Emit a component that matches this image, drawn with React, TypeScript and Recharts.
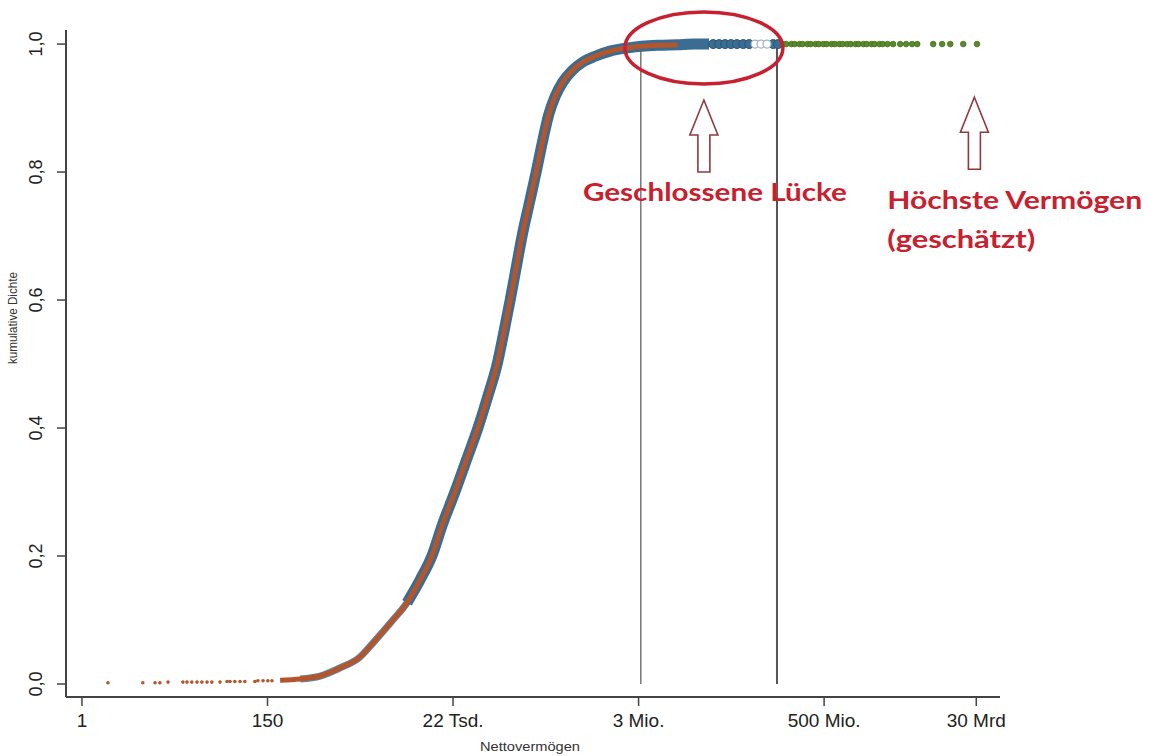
import React from 'react';
import {
  ComposedChart,
  Line,
  Scatter,
  XAxis,
  YAxis,
  ReferenceLine,
  ReferenceDot,
  Label,
} from 'recharts';

// x values are ln(Nettovermögen); tick labels show the wealth
const xTickValues = [0, 5, 10, 15, 20, 24.1];
const xTickLabels = ['1', '150', '22 Tsd.', '3 Mio.', '500 Mio.', '30 Mrd'];
const yTickValues = [0, 0.2, 0.4, 0.6, 0.8, 1.0];
const yTickLabels = ['0,0', '0,2', '0,4', '0,6', '0,8', '1,0'];

// sparse lowest wealth observations (orange dots)
const lowTailX = [0.7, 1.64, 1.97, 2.1, 2.32, 2.72, 2.83, 2.96, 3.1, 3.23, 3.37, 3.5, 3.72, 3.91, 3.99, 4.12, 4.26, 4.39, 4.66, 4.74, 4.88, 5.01, 5.12];
const lowTailY = [0.002, 0.002, 0.002, 0.002, 0.003, 0.003, 0.003, 0.003, 0.003, 0.003, 0.003, 0.003, 0.003, 0.004, 0.004, 0.004, 0.004, 0.004, 0.004, 0.005, 0.005, 0.005, 0.005];

// survey distribution (orange)
const surveyX = [5.34, 5.88, 6.42, 6.95, 7.49, 7.84, 8.38, 8.76, 9.11, 9.43, 9.72, 10.05, 10.36, 10.67, 10.94, 11.19, 11.37, 11.54, 11.7, 11.86, 12.05, 12.24, 12.42, 12.58, 12.75, 12.95, 13.2, 13.5, 13.83, 14.23, 14.77, 15.5, 16.05];
const surveyY = [0.006, 0.008, 0.0125, 0.025, 0.042, 0.064, 0.1, 0.127, 0.1625, 0.2, 0.25, 0.3, 0.35, 0.4, 0.45, 0.5, 0.55, 0.6, 0.65, 0.7, 0.75, 0.8, 0.85, 0.89, 0.918, 0.94, 0.958, 0.972, 0.981, 0.989, 0.9945, 0.998, 0.999];

// imputed distribution (blue band): thin lower part, thick upper part, tail circles
const imputedLowX = [5.88, 6.42, 6.95, 7.49, 7.84, 8.38, 8.76, 9.11];
const imputedLowY = [0.008, 0.0125, 0.025, 0.042, 0.064, 0.1, 0.127, 0.1625];
const imputedX = [8.76, 9.11, 9.43, 9.72, 10.05, 10.36, 10.67, 10.94, 11.19, 11.37, 11.54, 11.7, 11.86, 12.05, 12.24, 12.42, 12.58, 12.75, 12.95, 13.2, 13.5, 13.83, 14.23, 14.77, 15.5, 16.05, 16.5, 16.9];
const imputedY = [0.127, 0.1625, 0.2, 0.25, 0.3, 0.35, 0.4, 0.45, 0.5, 0.55, 0.6, 0.65, 0.7, 0.75, 0.8, 0.85, 0.89, 0.918, 0.94, 0.958, 0.972, 0.981, 0.989, 0.9945, 0.998, 0.999, 1.0, 1.0];
const imputedTailX = [17.01, 17.17, 17.33, 17.49, 17.65, 17.82, 17.98, 18.63, 18.76];
const imputedTailY = [1.0, 1.0, 1.0, 1.0, 1.0, 1.0, 1.0, 1.0, 1.0];
const imputedHollowX = [18.14, 18.3, 18.46];
const imputedHollowY = [1.0, 1.0, 1.0];

// estimated top wealth (green)
const topX = [18.89, 18.98, 19.12, 19.21, 19.34, 19.42, 19.55, 19.64, 19.77, 19.86, 19.98, 20.07, 20.2, 20.29, 20.41, 20.5, 20.62, 20.72, 20.85, 20.93, 21.06, 21.15, 21.28, 21.36, 21.49, 21.58, 21.71, 21.86, 22.05, 22.21, 22.37, 22.51, 22.94, 23.18, 23.4, 23.75, 24.12];
const topY = [1, 1, 1, 1, 1, 1, 1, 1, 1, 1, 1, 1, 1, 1, 1, 1, 1, 1, 1, 1, 1, 1, 1, 1, 1, 1, 1, 1, 1, 1, 1, 1, 1, 1, 1, 1, 1];

const zip = (xs: number[], ys: number[]) => xs.map((x, i) => ({ x, y: ys[i] }));
const lowTail = zip(lowTailX, lowTailY);
const survey = zip(surveyX, surveyY);
const imputedLow = zip(imputedLowX, imputedLowY);
const imputed = zip(imputedX, imputedY);
const imputedTail = zip(imputedTailX, imputedTailY);
const imputedHollow = zip(imputedHollowX, imputedHollowY);
const top = zip(topX, topY);

const BLUE = '#3b6c92';
const ORANGE = '#b4552b';
const GREEN = '#5a8a2b';
const RED = '#c8202e';
const ARROW = '#8f3a3f';
const AXIS = '#444';
const FONT = '"Liberation Sans", Arial, sans-serif';
const ANN_FONT = 'Lato, "Open Sans", sans-serif';

const YTick = (props: any) => {
  const { x, y, payload } = props;
  const label = yTickLabels[yTickValues.indexOf(payload.value)];
  const cx = x - 19;
  return (
    <text
      x={cx}
      y={y}
      transform={`rotate(-90, ${cx}, ${y})`}
      textAnchor="middle"
      dominantBaseline="central"
      fontFamily={FONT}
      fontSize={18}
      fill="#222"
    >
      {label}
    </text>
  );
};

const arrowShape = (p: any) => {
  const { cx, cy } = p;
  const d = `M ${cx} ${cy} L ${cx + 14} ${cy + 35} L ${cx + 6} ${cy + 35} L ${cx + 6} ${cy + 72} L ${cx - 6} ${cy + 72} L ${cx - 6} ${cy + 35} L ${cx - 14} ${cy + 35} Z`;
  return <path d={d} fill="#fff" stroke={ARROW} strokeWidth={1.6} strokeLinejoin="miter" />;
};

const textShape = (label: string, width: number) => (p: any) => (
  <text
    x={p.cx}
    y={p.cy}
    fontFamily={ANN_FONT}
    fontWeight={700}
    fontSize={25}
    fill={RED}
    textLength={width}
    lengthAdjust="spacingAndGlyphs"
  >
    {label}
  </text>
);

export default function App() {
  return (
    <div style={{ position: 'absolute', left: 0, top: 0, width: 1150, height: 756, background: '#fff' }}>
      <ComposedChart width={1150} height={756} margin={{ top: 30, right: 150, bottom: 0, left: 0 }}>
        <XAxis
          type="number"
          dataKey="x"
          domain={[-0.43, 24.74]}
          allowDataOverflow
          ticks={xTickValues}
          tickFormatter={(v: number) => xTickLabels[xTickValues.indexOf(v)]}
          height={59}
          tickSize={9}
          tickMargin={8}
          axisLine={{ stroke: AXIS, strokeWidth: 2 }}
          tickLine={{ stroke: AXIS, strokeWidth: 1.5 }}
          tick={{ fontFamily: FONT, fontSize: 19, fill: '#222' }}
        >
          <Label
            content={() => (
              <text x={530} y={751} textAnchor="middle" fontFamily={FONT} fontSize={13} fill="#333" textLength={100} lengthAdjust="spacingAndGlyphs">
                Nettovermögen
              </text>
            )}
          />
        </XAxis>
        <YAxis
          type="number"
          dataKey="y"
          domain={[-0.0203, 1.022]}
          allowDataOverflow
          ticks={yTickValues}
          width={66}
          tickSize={9}
          tickMargin={2}
          axisLine={{ stroke: AXIS, strokeWidth: 2 }}
          tickLine={{ stroke: AXIS, strokeWidth: 1.5 }}
          tick={<YTick />}
        >
          <Label
            content={() => (
              <text
                x={13}
                y={318}
                transform="rotate(-90, 13, 318)"
                textAnchor="middle"
                dominantBaseline="central"
                fontFamily={FONT}
                fontSize={12}
                fill="#333"
                textLength={92}
                lengthAdjust="spacingAndGlyphs"
              >
                kumulative Dichte
              </text>
            )}
          />
        </YAxis>

        <ReferenceLine segment={[{ x: 15.06, y: 0 }, { x: 15.06, y: 0.997 }]} stroke="#777" strokeWidth={1.5} ifOverflow="visible" />
        <ReferenceLine segment={[{ x: 18.73, y: 0 }, { x: 18.73, y: 0.997 }]} stroke="#555" strokeWidth={2} ifOverflow="visible" />

        <Line data={imputedLow} dataKey="y" type="monotoneX" stroke="#5d84a6" strokeWidth={7} dot={false} isAnimationActive={false} />
        <Line data={imputed} dataKey="y" type="monotoneX" stroke={BLUE} strokeWidth={11} dot={false} isAnimationActive={false} />
        <Scatter
          data={imputedTail}
          dataKey="y"
          isAnimationActive={false}
          shape={(p: any) => <circle cx={p.cx} cy={p.cy} r={4.5} fill={BLUE} stroke="#2c5679" strokeWidth={1} />}
        />
        <Scatter
          data={imputedHollow}
          dataKey="y"
          isAnimationActive={false}
          shape={(p: any) => <circle cx={p.cx} cy={p.cy} r={4} fill="#fff" stroke="#9fb3c4" strokeWidth={1.2} />}
        />
        <Line data={survey} dataKey="y" type="monotoneX" stroke={ORANGE} strokeWidth={5} dot={false} isAnimationActive={false} />
        <Scatter
          data={lowTail}
          dataKey="y"
          isAnimationActive={false}
          shape={(p: any) => <circle cx={p.cx} cy={p.cy} r={1.8} fill={ORANGE} />}
        />
        <Scatter
          data={top}
          dataKey="y"
          isAnimationActive={false}
          shape={(p: any) => <circle cx={p.cx} cy={p.cy} r={2.8} fill={GREEN} stroke="#42701c" strokeWidth={0.8} />}
        />

        <ReferenceDot
          x={16.76}
          y={0.994}
          ifOverflow="visible"
          shape={(p: any) => <ellipse cx={p.cx} cy={p.cy} rx={79} ry={36} fill="none" stroke={RED} strokeWidth={3.5} />}
        />
        <ReferenceDot x={16.76} y={0.9125} ifOverflow="visible" shape={arrowShape} />
        <ReferenceDot x={24.05} y={0.917} ifOverflow="visible" shape={arrowShape} />
        <ReferenceDot x={13.5} y={0.755} ifOverflow="visible" shape={textShape('Geschlossene Lücke', 264)} />
        <ReferenceDot x={21.7} y={0.742} ifOverflow="visible" shape={textShape('Höchste Vermögen', 255)} />
        <ReferenceDot x={21.7} y={0.681} ifOverflow="visible" shape={textShape('(geschätzt)', 148)} />
      </ComposedChart>
    </div>
  );
}
